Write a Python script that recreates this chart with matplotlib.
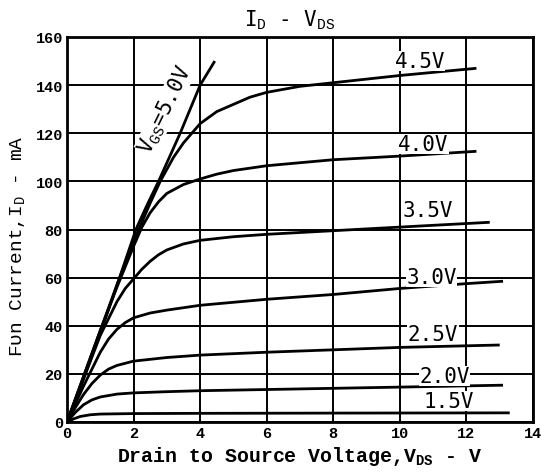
"""ID - VDS output characteristics, redrawn from a scanned datasheet."""
import matplotlib
matplotlib.use("Agg")
import matplotlib.pyplot as plt

plt.rcParams["mathtext.fontset"] = "custom"
plt.rcParams["mathtext.rm"] = "Liberation Mono"
plt.rcParams["mathtext.bf"] = "Liberation Mono:bold"
plt.rcParams["mathtext.it"] = "Liberation Mono"

# V_DS sample points (V) and drain current (mA) per gate voltage
vgs_labels = ["1.5V", "2.0V", "2.5V", "3.0V", "3.5V", "4.0V", "4.5V"]

vds_15 = [0, 0.2, 0.4, 0.7, 1.0, 2, 4, 8, 13.3]
id_15 = [0, 1.3, 2.3, 3.0, 3.3, 3.5, 3.6, 3.7, 3.8]

vds_20 = [0, 0.25, 0.5, 0.75, 1, 1.5, 2, 3, 4, 6, 8, 10, 13.1]
id_20 = [0, 4, 7.2, 9.2, 10.4, 11.6, 12.1, 12.6, 13.0, 13.5, 14.0, 14.5, 15.3]

vds_25 = [0, 0.25, 0.5, 0.75, 1, 1.25, 1.5, 2, 3, 4, 6, 8, 10, 13.0]
id_25 = [0, 6, 11.5, 16, 19.5, 22, 23.5, 25.3, 26.8, 27.8, 29, 30, 31, 32]

vds_30 = [0, 0.5, 1, 1.25, 1.5, 1.75, 2, 2.5, 3, 4, 6, 8, 10, 12, 13.1]
id_30 = [0, 15, 29, 34.5, 38.5, 41.3, 43.3, 45.3, 46.5, 48.5, 51, 53, 55.5, 57.5, 58.5]

vds_35 = [0, 0.5, 1, 1.5, 1.75, 2, 2.25, 2.5, 2.75, 3, 3.5, 4, 5, 6, 8, 10, 12.7]
id_35 = [0, 18, 36, 50, 55.5, 59.5, 63.5, 66.8, 69.5, 71.5, 74, 75.5, 77, 78, 79.5, 81, 83]

vds_40 = [0, 0.5, 1, 1.5, 2, 2.25, 2.5, 2.75, 3, 3.5, 4, 4.5, 5, 6, 8, 10, 12.3]
id_40 = [0, 19, 38, 56, 73, 81, 87, 91.5, 95, 98.7, 101, 103, 104.5, 106.5, 109, 110.5, 112.5]

vds_45 = [0, 0.5, 1, 1.5, 2, 2.5, 2.8, 3.2, 3.5, 3.75, 4, 4.5, 5, 5.5, 6, 7, 8, 10, 12.3]
id_45 = [0, 19, 38, 57, 75, 91, 100, 110, 116, 120, 124, 129, 132, 135, 137, 139.5, 141, 144, 147]

vds_50 = [0, 0.55, 1.08, 1.58, 2.07, 2.4, 2.75, 3.4, 4.0, 4.44]
id_50 = [0, 20, 40, 60, 80, 90, 100, 120, 140, 150]

# label anchor points (V, mA)
label_x = [11.47, 11.35, 11.0, 10.95, 10.85, 10.7, 10.6]
label_y = [8.7, 19.1, 36.6, 60.3, 88, 115.5, 150]

x_ticks = [0, 2, 4, 6, 8, 10, 12, 14]
y_ticks = [0, 20, 40, 60, 80, 100, 120, 140, 160]

fig = plt.figure(figsize=(5.42, 4.77), dpi=100)
ax = fig.add_axes([67 / 542, 1 - 423 / 477, 466 / 542, 385 / 477])

curves = [(vds_15, id_15), (vds_20, id_20), (vds_25, id_25), (vds_30, id_30),
          (vds_35, id_35), (vds_40, id_40), (vds_45, id_45), (vds_50, id_50)]
for vx, iy in curves:
    ax.plot(vx, iy, color="black", lw=2.0, solid_capstyle="butt",
            solid_joinstyle="round")

for lab, lx, ly in zip(vgs_labels, label_x, label_y):
    ax.text(lx, ly, lab, fontsize=15, family="DejaVu Sans Mono", ha="center",
            va="center", bbox=dict(facecolor="white", edgecolor="none", pad=0.3))

ax.text(2.95, 130, "V$_\\mathrm{GS}$=5.0V", fontsize=15, family="DejaVu Sans Mono",
        rotation=64, ha="center", va="center",
        bbox=dict(facecolor="white", edgecolor="none", pad=0.2))

ax.set_xlim(0, 14)
ax.set_ylim(0, 160)
ax.set_xticks(x_ticks)
ax.set_yticks(y_ticks)
ax.grid(True, color="black", lw=1.4)
ax.set_axisbelow(True)
ax.tick_params(length=0, pad=3)
for lab in ax.get_xticklabels() + ax.get_yticklabels():
    lab.set_family("Liberation Mono")
    lab.set_fontweight("bold")
    lab.set_fontsize(11)
for sp in ax.spines.values():
    sp.set_linewidth(2.0)

ax.set_title("I$_\\mathrm{D}$ - V$_\\mathrm{DS}$", fontsize=15,
             family="DejaVu Sans Mono", pad=8, x=0.478)
ax.set_xlabel("Drain to Source Voltage,V$_\\mathbf{DS}$ - V", fontsize=14.3,
              family="Liberation Mono", fontweight="bold", labelpad=3)
ax.set_ylabel("Fυn Current,I$_\\mathrm{D}$ - mA", fontsize=14,
              family="Liberation Mono")
ax.yaxis.set_label_coords(-0.085, 0.46)

fig.savefig("out.png", dpi=100)
